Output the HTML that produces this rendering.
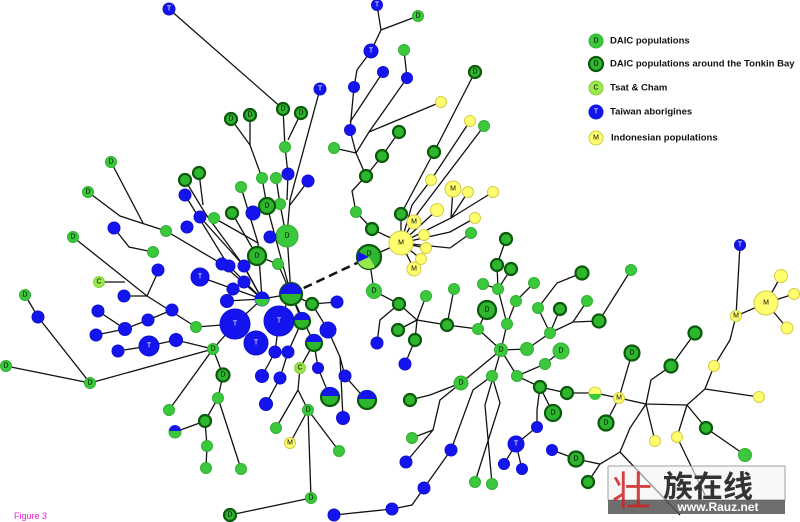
<!DOCTYPE html>
<html><head><meta charset="utf-8"><style>
body{margin:0;background:#fff;}
svg{display:block;font-family:"Liberation Sans",sans-serif;}
.e line,.e polyline{stroke:#111;stroke-width:1.3;fill:none}
.d{fill:#3cc83c;stroke:#30b030;stroke-width:1}
.k{fill:#2fb62f;stroke:#0b5a0b;stroke-width:2.2}
.t{fill:#1414ee;stroke:#1010d0;stroke-width:1}
.m{fill:#ffff70;stroke:#d4cc40;stroke-width:1}
.c{fill:#9be84c;stroke:#80d040;stroke-width:1}
text{font-size:7px;text-anchor:middle;dominant-baseline:central}
.w{fill:#fff}
</style></head><body>
<svg width="800" height="522" viewBox="0 0 800 522">
<g class="e">
<polyline points="169,9 283,109 285,147 288,174 287,200"/>
<line x1="301" y1="113" x2="288" y2="140"/>
<polyline points="320,89 290,200 287,235 291,294"/>
<polyline points="231,119 250,145 262,178 267,206 282,262 291,294"/>
<line x1="250" y1="115" x2="250" y2="145"/>
<polyline points="276,178 280,204 285,230"/>
<line x1="308" y1="181" x2="290" y2="205"/>
<line x1="241" y1="187" x2="258" y2="243"/>
<polyline points="111,162 143,223"/>
<polyline points="88,192 120,216 166,231 222,264 262,299"/>
<polyline points="114,228 129,247 153,252"/>
<polyline points="73,237 147,296 196,327 235,324"/>
<polyline points="185,180 205,213 243,265 262,299"/>
<polyline points="199,173 203,205"/>
<polyline points="185,195 228,265 262,299"/>
<polyline points="200,217 244,266 262,299"/>
<polyline points="214,218 258,243 262,299"/>
<polyline points="232,213 257,256 278,264 291,294"/>
<polyline points="99,282 125,282"/>
<polyline points="158,272 147,296"/>
<polyline points="124,296 147,296"/>
<polyline points="98,311 125,329 148,320 172,310"/>
<polyline points="96,335 125,329"/>
<polyline points="118,351 149,346 176,340 213,349 235,324 262,299 291,294"/>
<polyline points="25,295 38,317 90,383 213,349"/>
<polyline points="6,366 90,383"/>
<polyline points="200,277 262,299"/>
<polyline points="227,301 262,299"/>
<polyline points="291,294 279,321 275,352 262,376"/>
<polyline points="291,294 302,321 288,352 280,378 266,404"/>
<polyline points="291,294 312,304 337,302"/>
<polyline points="312,304 328,330 340,357 345,376 366,400"/>
<polyline points="340,357 343,418"/>
<polyline points="291,294 314,343 300,368 298,390 308,410 311,498 230,515"/>
<polyline points="298,390 276,428"/>
<polyline points="308,410 290,443"/>
<polyline points="308,410 339,451"/>
<polyline points="314,343 318,368 330,397"/>
<polyline points="213,349 223,375 218,398 205,421 207,446 206,468"/>
<polyline points="205,421 175,432"/>
<polyline points="218,398 241,469"/>
<polyline points="213,349 169,410"/>
<polyline points="334,515 392,509 412,505 424,488 451,450 473,390 492,376"/>
<polyline points="369,257 374,291 399,304 417,320 447,325 478,329 501,350"/>
<polyline points="417,320 426,296"/><polyline points="417,320 398,330"/><polyline points="417,320 415,340 405,364"/>
<polyline points="399,304 380,320 377,343"/>
<polyline points="447,325 454,289"/>
<polyline points="478,329 487,310"/>
<polyline points="501,350 507,324 516,301 534,283"/>
<polyline points="507,324 498,289 483,284"/>
<polyline points="498,289 511,269"/><polyline points="498,289 497,265 506,239"/>
<polyline points="501,350 527,349 550,333 538,308"/>
<polyline points="550,333 560,309"/>
<polyline points="550,333 573,322 599,321 631,270"/>
<polyline points="573,322 587,301"/>
<polyline points="538,308 557,283 582,273"/>
<polyline points="501,350 517,376 545,364 561,351"/>
<polyline points="517,376 540,387 567,393 595,393 619,398 646,404 687,405 705,389 714,366 730,340 736,316 740,245"/>
<polyline points="736,316 766,303 781,276"/><polyline points="766,303 794,294"/><polyline points="766,303 787,328"/>
<polyline points="540,387 553,413"/>
<polyline points="540,387 537,410 537,427 516,444 504,464"/>
<polyline points="516,444 522,469"/>
<polyline points="619,398 606,423"/><polyline points="619,398 632,353"/>
<polyline points="646,404 651,380 671,366 695,333"/>
<polyline points="646,404 655,441"/>
<polyline points="646,404 630,428 620,452 600,464 576,459 552,450"/>
<polyline points="600,464 588,482"/>
<polyline points="620,452 680,515"/>
<polyline points="687,405 677,437 705,495"/>
<polyline points="687,405 706,428 745,455"/>
<polyline points="705,389 759,397"/>
<polyline points="501,350 461,383 430,395 410,400"/>
<polyline points="461,383 440,400 433,430 412,438"/>
<polyline points="433,430 406,462"/>
<polyline points="492,376 500,403 475,482"/>
<polyline points="501,350 485,405 492,484"/>
<polyline points="377,5 381,30 371,51 357,70 354,87 350,130 356,153 366,176 352,191 356,212 372,229 401,243"/>
<polyline points="381,30 418,16"/>
<polyline points="383,72 350,122"/>
<polyline points="404,50 407,78 369,132 356,153"/>
<polyline points="369,132 441,102"/>
<polyline points="334,148 356,153"/>
<polyline points="399,132 382,156 366,176"/>
<polyline points="475,72 434,152 401,214 401,243"/>
<polyline points="470,121 431,180 412,205 401,243"/>
<polyline points="484,126 418,213 401,243"/>
<polyline points="401,243 451,218 453,189"/><polyline points="451,218 468,192"/><polyline points="451,218 493,192"/>
<polyline points="401,243 450,232 475,218"/>
<polyline points="401,243 450,248 471,233"/>
<polyline points="401,243 437,210"/><polyline points="401,243 426,248"/><polyline points="401,243 421,259"/><polyline points="401,243 414,269"/><polyline points="401,243 369,257"/>
</g>
<line x1="291" y1="294" x2="359" y2="262" stroke="#111" stroke-width="2.5" stroke-dasharray="9,5"/>
<g>
<g class="d">
<circle cx="285" cy="147" r="5.5"/><circle cx="262" cy="178" r="5.5"/><circle cx="276" cy="178" r="5.5"/><circle cx="280" cy="204" r="5.5"/><circle cx="287" cy="236" r="11"/>
<circle cx="111" cy="162" r="5.5"/><circle cx="88" cy="192" r="5.5"/><circle cx="73" cy="237" r="5.5"/><circle cx="153" cy="252" r="5.5"/><circle cx="214" cy="218" r="5.5"/><circle cx="241" cy="187" r="5.5"/><circle cx="166" cy="231" r="5.5"/><circle cx="278" cy="264" r="5.5"/>
<circle cx="25" cy="295" r="5.5"/><circle cx="6" cy="366" r="5.5"/><circle cx="90" cy="383" r="5.5"/><circle cx="196" cy="327" r="5.5"/><circle cx="213" cy="349" r="5.5"/><circle cx="218" cy="398" r="5.5"/><circle cx="207" cy="446" r="5.5"/><circle cx="206" cy="468" r="5.5"/><circle cx="241" cy="469" r="5.5"/><circle cx="169" cy="410" r="5.5"/>
<circle cx="308" cy="410" r="5.5"/><circle cx="276" cy="428" r="5.5"/><circle cx="339" cy="451" r="5.5"/><circle cx="311" cy="498" r="5.5"/>
<circle cx="374" cy="291" r="7.5"/><circle cx="426" cy="296" r="5.5"/><circle cx="454" cy="289" r="5.5"/><circle cx="478" cy="329" r="5.5"/><circle cx="501" cy="350" r="6.5"/><circle cx="507" cy="324" r="5.5"/><circle cx="516" cy="301" r="5.5"/><circle cx="534" cy="283" r="5.5"/><circle cx="483" cy="284" r="5.5"/><circle cx="498" cy="289" r="5.5"/>
<circle cx="527" cy="349" r="6.5"/><circle cx="550" cy="333" r="5.5"/><circle cx="538" cy="308" r="5.5"/><circle cx="587" cy="301" r="5.5"/><circle cx="631" cy="270" r="5.5"/><circle cx="517" cy="376" r="5.5"/><circle cx="545" cy="364" r="5.5"/><circle cx="561" cy="351" r="8"/><circle cx="745" cy="455" r="6.5"/>
<circle cx="461" cy="383" r="7"/><circle cx="492" cy="376" r="5.5"/><circle cx="412" cy="438" r="5.5"/><circle cx="475" cy="482" r="5.5"/><circle cx="492" cy="484" r="5.5"/>
<circle cx="418" cy="16" r="5.5"/><circle cx="404" cy="50" r="5.5"/><circle cx="334" cy="148" r="5.5"/><circle cx="356" cy="212" r="5.5"/><circle cx="484" cy="126" r="5.5"/><circle cx="471" cy="233" r="5.5"/>
<circle cx="596" cy="41" r="7"/>
</g>
<g class="k">
<circle cx="283" cy="109" r="6"/><circle cx="301" cy="113" r="6"/><circle cx="231" cy="119" r="6"/><circle cx="250" cy="115" r="6"/><circle cx="267" cy="206" r="8"/><circle cx="185" cy="180" r="6"/><circle cx="199" cy="173" r="6"/><circle cx="232" cy="213" r="6"/><circle cx="257" cy="256" r="9"/>
<circle cx="223" cy="375" r="6.5"/><circle cx="205" cy="421" r="6"/><circle cx="230" cy="515" r="6"/><circle cx="312" cy="304" r="6"/>
<circle cx="399" cy="304" r="6"/><circle cx="398" cy="330" r="6"/><circle cx="415" cy="340" r="6"/><circle cx="447" cy="325" r="6"/><circle cx="487" cy="310" r="9"/><circle cx="497" cy="265" r="6"/><circle cx="511" cy="269" r="6"/><circle cx="506" cy="239" r="6"/><circle cx="560" cy="309" r="6"/>
<circle cx="599" cy="321" r="6.5"/><circle cx="582" cy="273" r="6.5"/><circle cx="540" cy="387" r="6"/><circle cx="567" cy="393" r="6"/><circle cx="553" cy="413" r="8"/><circle cx="606" cy="423" r="7.5"/><circle cx="632" cy="353" r="7.5"/><circle cx="671" cy="366" r="6.5"/><circle cx="695" cy="333" r="6.5"/><circle cx="706" cy="428" r="6"/>
<circle cx="576" cy="459" r="7.5"/><circle cx="588" cy="482" r="6"/><circle cx="410" cy="400" r="6"/>
<circle cx="399" cy="132" r="6"/><circle cx="382" cy="156" r="6"/><circle cx="366" cy="176" r="6"/><circle cx="372" cy="229" r="6"/><circle cx="475" cy="72" r="6"/><circle cx="434" cy="152" r="6"/><circle cx="401" cy="214" r="6"/>
<circle cx="596" cy="64" r="7"/>
</g>
<circle cx="291" cy="294" r="11" class="k"/><path d="M280,294 A11,11 0 0 1 302,294 Z" fill="#1414ee"/>
<circle cx="262" cy="299" r="7" class="t"/><path d="M255,299 A7,7 0 0 0 269,299 Z" fill="#3cc83c"/>
<circle cx="302" cy="321" r="8" class="k"/><path d="M294,320 A8,8 0 0 1 310,320 Z" fill="#1414ee"/>
<circle cx="314" cy="343" r="8" class="k"/><path d="M306,342 A8,8 0 0 1 322,342 Z" fill="#1414ee"/>
<circle cx="330" cy="397" r="9" class="k"/><path d="M321,396 A9,9 0 0 1 339,396 Z" fill="#1414ee"/>
<circle cx="367" cy="400" r="9" class="k"/><path d="M358,399 A9,9 0 0 1 376,399 Z" fill="#1414ee"/>
<circle cx="175" cy="432" r="6" class="d"/><path d="M169,431 A6,6 0 0 1 181,431 Z" fill="#1414ee"/>
<circle cx="369" cy="257" r="12" class="k"/><path d="M369,257 L358,262 A12,12 0 0 0 375,267 Z" fill="#9be84c"/><path d="M369,257 L359,252 A12,12 0 0 0 358,262 Z" fill="#1414ee"/>
<circle cx="595" cy="393" r="6" class="m"/><path d="M589,394 A6,6 0 0 0 601,394 Z" fill="#3cc83c"/>
<circle cx="270" cy="237" r="6" class="t"/>
<g class="t">
<circle cx="169" cy="9" r="6"/><circle cx="320" cy="89" r="6"/><circle cx="288" cy="174" r="6"/><circle cx="308" cy="181" r="6"/><circle cx="253" cy="213" r="7"/>
<circle cx="114" cy="228" r="6"/><circle cx="185" cy="195" r="6"/><circle cx="200" cy="217" r="6"/><circle cx="187" cy="227" r="6"/><circle cx="229" cy="266" r="6"/><circle cx="244" cy="266" r="6"/><circle cx="222" cy="264" r="6"/><circle cx="158" cy="270" r="6"/>
<circle cx="124" cy="296" r="6"/><circle cx="38" cy="317" r="6"/><circle cx="98" cy="311" r="6"/><circle cx="125" cy="329" r="6.5"/><circle cx="148" cy="320" r="6"/><circle cx="172" cy="310" r="6"/><circle cx="96" cy="335" r="6"/><circle cx="118" cy="351" r="6"/><circle cx="149" cy="346" r="10"/><circle cx="176" cy="340" r="6.5"/>
<circle cx="200" cy="277" r="9"/><circle cx="227" cy="301" r="6.5"/><circle cx="233" cy="289" r="6"/><circle cx="244" cy="282" r="6"/><circle cx="235" cy="324" r="15"/><circle cx="279" cy="321" r="15"/><circle cx="256" cy="343" r="12"/>
<circle cx="275" cy="352" r="6"/><circle cx="288" cy="352" r="6"/><circle cx="262" cy="376" r="6.5"/><circle cx="280" cy="378" r="6"/><circle cx="266" cy="404" r="6.5"/>
<circle cx="337" cy="302" r="6"/><circle cx="328" cy="330" r="8"/><circle cx="318" cy="368" r="5.5"/><circle cx="345" cy="376" r="6"/><circle cx="343" cy="418" r="6.5"/>
<circle cx="334" cy="515" r="6"/><circle cx="392" cy="509" r="6"/><circle cx="424" cy="488" r="6"/><circle cx="451" cy="450" r="6"/><circle cx="406" cy="462" r="6"/><circle cx="377" cy="343" r="6"/><circle cx="405" cy="364" r="6"/>
<circle cx="516" cy="444" r="8"/><circle cx="504" cy="464" r="5.5"/><circle cx="522" cy="469" r="5.5"/><circle cx="537" cy="427" r="5.5"/><circle cx="552" cy="450" r="5.5"/><circle cx="740" cy="245" r="5.5"/>
<circle cx="377" cy="5" r="5.5"/><circle cx="371" cy="51" r="7"/><circle cx="383" cy="72" r="5.5"/><circle cx="354" cy="87" r="5.5"/><circle cx="407" cy="78" r="5.5"/><circle cx="350" cy="130" r="5.5"/>
<circle cx="596" cy="112" r="7"/>
</g>
<g class="m">
<circle cx="441" cy="102" r="5.5"/><circle cx="470" cy="121" r="5.5"/><circle cx="431" cy="180" r="5.5"/><circle cx="453" cy="189" r="8"/><circle cx="468" cy="192" r="5.5"/><circle cx="493" cy="192" r="5.5"/><circle cx="437" cy="210" r="6.5"/><circle cx="414" cy="222" r="7"/><circle cx="424" cy="235" r="5.5"/><circle cx="401" cy="243" r="12"/><circle cx="426" cy="248" r="5.5"/><circle cx="421" cy="259" r="5.5"/><circle cx="414" cy="269" r="7"/><circle cx="475" cy="218" r="5.5"/>
<circle cx="290" cy="443" r="5.5"/><circle cx="619" cy="398" r="5.5"/><circle cx="655" cy="441" r="5.5"/><circle cx="677" cy="437" r="5.5"/><circle cx="759" cy="397" r="5.5"/><circle cx="714" cy="366" r="5.5"/><circle cx="736" cy="316" r="5.5"/><circle cx="766" cy="303" r="12"/><circle cx="781" cy="276" r="6.5"/><circle cx="794" cy="294" r="5.5"/><circle cx="787" cy="328" r="6"/>
<circle cx="596" cy="138" r="7"/>
</g>
<g class="c"><circle cx="99" cy="282" r="5.5"/><circle cx="300" cy="368" r="5.5"/><circle cx="596" cy="88" r="7"/></g>
</g>
<g>
<text x="596" y="41">D</text><text x="596" y="64">D</text><text x="596" y="88">C</text><text x="596" y="112" class="w">T</text><text x="596" y="138">M</text>
<text x="287" y="236">D</text><text x="401" y="243">M</text><text x="766" y="303">M</text><text x="235" y="324" class="w">T</text><text x="279" y="321" class="w">T</text><text x="256" y="343" class="w">T</text><text x="149" y="346" class="w">T</text><text x="200" y="277" class="w">T</text><text x="487" y="310">D</text><text x="374" y="291">D</text><text x="561" y="351">D</text><text x="369" y="254">D</text>
<text x="169" y="9" class="w">T</text><text x="320" y="89" class="w">T</text><text x="371" y="51" class="w">T</text><text x="516" y="444" class="w">T</text><text x="740" y="245" class="w">T</text><text x="377" y="5" class="w">T</text>
<text x="283" y="109">D</text><text x="301" y="113">D</text><text x="231" y="119">D</text><text x="250" y="115">D</text><text x="267" y="206">D</text><text x="257" y="256">D</text><text x="111" y="162">D</text><text x="88" y="192">D</text><text x="73" y="237">D</text><text x="25" y="295">D</text><text x="6" y="366">D</text><text x="90" y="383">D</text><text x="213" y="349">D</text><text x="223" y="375">D</text><text x="308" y="410">D</text><text x="311" y="498">D</text><text x="230" y="515">D</text>
<text x="501" y="350">D</text><text x="461" y="383">D</text><text x="553" y="413">D</text><text x="606" y="423">D</text><text x="632" y="353">D</text><text x="576" y="459">D</text><text x="475" y="72">D</text><text x="418" y="16">D</text>
<text x="453" y="189">M</text><text x="414" y="222">M</text><text x="414" y="269">M</text><text x="290" y="443">M</text><text x="619" y="398">M</text><text x="736" y="316">M</text><text x="99" y="282">C</text><text x="300" y="368">C</text>
</g>
<g style="font-weight:bold;fill:#111">
<text x="610" y="41" style="text-anchor:start;font-size:9.5px">DAIC populations</text>
<text x="610" y="64" style="text-anchor:start;font-size:9.5px">DAIC populations around the Tonkin Bay</text>
<text x="610" y="88" style="text-anchor:start;font-size:9.5px">Tsat &amp; Cham</text>
<text x="610" y="112" style="text-anchor:start;font-size:9.5px">Taiwan aborigines</text>
<text x="611" y="138" style="text-anchor:start;font-size:9.5px">Indonesian populations</text>
</g>
<text x="14" y="516" style="text-anchor:start;font-size:9px;fill:#ee22dd">Figure 3</text>
<rect x="608" y="466" width="177" height="34" fill="#f4f4f4" fill-opacity="0.6" stroke="#888" stroke-width="0.8"/>
<rect x="608" y="500" width="177" height="14" fill="#555" fill-opacity="0.85"/>
<text x="708" y="484" style="font-size:30px;font-weight:bold;fill:#333;font-family:'Noto Sans CJK SC','WenQuanYi Zen Hei',sans-serif">族在线</text>
<text x="632" y="488" style="font-size:40px;fill:#cc2222;fill-opacity:0.85;font-family:'Noto Sans CJK SC','WenQuanYi Zen Hei',sans-serif">壮</text>
<text x="718" y="507" style="font-size:12px;fill:#fff;font-weight:bold">www.Rauz.net</text>
</svg>
</body></html>
